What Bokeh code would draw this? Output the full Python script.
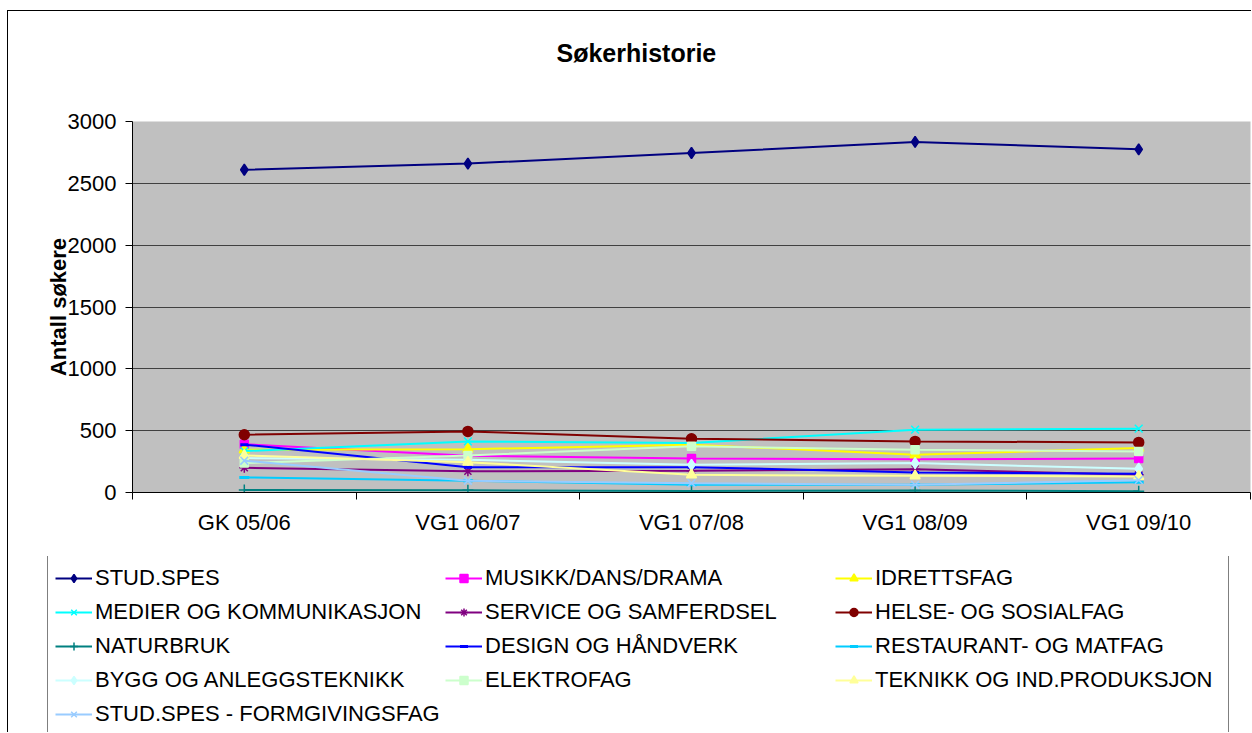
from bokeh.plotting import figure
from bokeh.models import (Legend, LegendItem, FixedTicker, Range1d, ColumnDataSource, Title)
from bokeh.embed import file_html
from bokeh.resources import INLINE

categories = ["GK 05/06", "VG1 06/07", "VG1 07/08", "VG1 08/09", "VG1 09/10"]

series_names = [
    "STUD.SPES", "MUSIKK/DANS/DRAMA", "IDRETTSFAG",
    "MEDIER OG KOMMUNIKASJON", "SERVICE OG SAMFERDSEL", "HELSE- OG SOSIALFAG",
    "NATURBRUK", "DESIGN OG HÅNDVERK", "RESTAURANT- OG MATFAG",
    "BYGG OG ANLEGGSTEKNIKK", "ELEKTROFAG", "TEKNIKK OG IND.PRODUKSJON",
    "STUD.SPES - FORMGIVINGSFAG",
]

stud_spes = [2610, 2660, 2745, 2835, 2775]
musikk = [390, 297, 275, 268, 275]
idrett = [345, 350, 387, 305, 359]
medier = [335, 413, 400, 508, 516]
service = [200, 172, 176, 189, 143]
helse = [467, 494, 435, 413, 405]
naturbruk = [20, 18, 12, 16, 10]
design = [387, 205, 205, 162, 152]
restaurant = [122, 95, 62, 62, 83]
bygg = [278, 265, 224, 238, 192]
elektro = [238, 300, 373, 346, 332]
teknikk = [300, 245, 143, 135, 130]
formgiving = [257, 95, 75, 62, 100]

values = [stud_spes, musikk, idrett, medier, service, helse, naturbruk,
          design, restaurant, bygg, elektro, teknikk, formgiving]

colors = ["#000080", "#FF00FF", "#FFFF00", "#00FFFF", "#800080", "#800000",
          "#008080", "#0000FF", "#00CCFF", "#CCFFFF", "#CCFFCC", "#FFFF99",
          "#99CCFF"]
markers = ["diamond", "square", "triangle", "x", "asterisk", "circle",
           "cross", "dash", "dash", "diamond", "square", "triangle", "x"]
msizes = [11, 8, 10, 11, 10, 10, 11, 8, 10, 11, 8, 10, 11]

FONT = "Liberation Sans"

p = figure(width=1244, height=546, output_backend="svg", toolbar_location=None,
           x_range=Range1d(0, len(categories)), y_range=Range1d(0, 3000),
           min_border_left=124, min_border_right=2, min_border_top=110,
           min_border_bottom=65)

p.title = Title(text="Søkerhistorie\n", align="left", offset=424,
                vertical_align="top",
                text_font=FONT, text_font_size="25px", text_font_style="bold",
                text_color="black", standoff=50)

p.background_fill_color = "#C0C0C0"
p.border_fill_color = "white"
p.outline_line_color = None
p.styles = {"margin-left": "7px", "margin-top": "10px",
            "border-left": "1px solid black", "border-top": "1px solid black"}

p.xgrid.grid_line_color = None
p.ygrid.grid_line_color = "#404040"
p.ygrid.grid_line_width = 1

xs = [i + 0.5 for i in range(len(categories))]

p.xaxis.ticker = FixedTicker(ticks=xs, minor_ticks=list(range(len(categories) + 1)))
p.xaxis.major_label_overrides = {x: c for x, c in zip(xs, categories)}
p.xaxis.major_tick_out = 0
p.xaxis.major_tick_in = 0
p.xaxis.minor_tick_out = 7
p.xaxis.minor_tick_in = 0
p.xaxis.minor_tick_line_color = "black"
p.xaxis.major_label_standoff = 10
p.xaxis.axis_line_color = "black"

p.yaxis.ticker = FixedTicker(ticks=[0, 500, 1000, 1500, 2000, 2500, 3000])
p.yaxis.major_tick_out = 7
p.yaxis.major_tick_in = 0
p.yaxis.minor_tick_line_color = None
p.yaxis.major_label_standoff = 9
p.yaxis.axis_line_color = "black"
p.yaxis.axis_label = "Antall søkere"
p.yaxis.axis_label_text_font = FONT
p.yaxis.axis_label_text_font_size = "22px"
p.yaxis.axis_label_text_font_style = "bold"
p.yaxis.axis_label_text_color = "black"
p.yaxis.axis_label_standoff = -6

for ax in (p.xaxis, p.yaxis):
    ax.major_label_text_font = FONT
    ax.major_label_text_font_size = "22px"
    ax.major_label_text_color = "black"

# legend figure (its frame holds only the legend)
lf = figure(width=1244, height=176, output_backend="svg", toolbar_location=None,
            x_range=Range1d(0, 1), y_range=Range1d(0, 1),
            x_axis_location=None, y_axis_location=None,
            min_border_left=0, min_border_right=0, min_border_top=0,
            min_border_bottom=0)
lf.outline_line_color = None
lf.background_fill_color = "white"
lf.border_fill_color = "white"
lf.grid.grid_line_color = None
lf.styles = {"margin-left": "7px", "border-left": "1px solid black"}

items = []
for name, vals, col, mk, ms in zip(series_names, values, colors, markers, msizes):
    src = ColumnDataSource(dict(x=xs, y=vals))
    lw = 3 if mk == "dash" else 1.5
    p.line("x", "y", source=src, line_color=col, line_width=2)
    p.scatter("x", "y", source=src, marker=mk, size=ms, fill_color=col,
              line_color=col, line_width=lw)
    lr = lf.line("x", "y", source=src, line_color=col, line_width=2)
    sr = lf.scatter("x", "y", source=src, marker=mk, size=ms, fill_color=col,
                    line_color=col, line_width=lw)
    items.append(LegendItem(label=name, renderers=[lr, sr]))

legend = Legend(items=items, location=(39, -5), ncols=3, orientation="horizontal",
                glyph_width=37, glyph_height=20, label_width=346, label_height=30,
                label_standoff=3, spacing=4, padding=7, margin=0,
                label_text_font=FONT, label_text_font_size="22px",
                label_text_color="black", border_line_color="black",
                border_line_width=1, background_fill_color="white",
                background_fill_alpha=1.0)
lf.add_layout(legend, "center")

open("out.html", "w").write(file_html([p, lf], INLINE))
